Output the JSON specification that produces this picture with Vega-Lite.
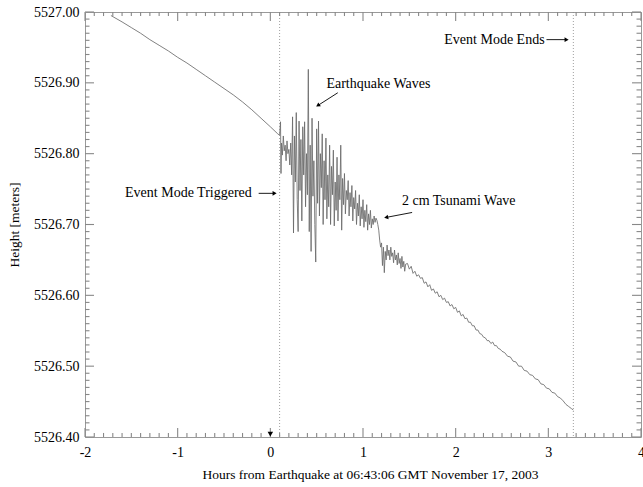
{
"$schema":"https://vega.github.io/schema/vega-lite/v6.json",
"width":556,"height":425,
"autosize":{"type":"none"},
"padding":{"left":85,"top":12,"right":2,"bottom":50},
"background":"white",
"config":{"view":{"stroke":"#999","strokeWidth":1},"axis":{"grid":false,"domain":false,"ticks":false,"labelFont":"Liberation Serif","labelFontSize":14,"labelColor":"#000","titleFont":"Liberation Serif","titleFontSize":13.5,"titleFontWeight":"normal","titleColor":"#000"}},
"datasets":{
"series":[
{"t":-1.72,"h":5526.995},{"t":-1.6,"h":5526.986},{"t":-1.5,"h":5526.978},{"t":-1.4,"h":5526.970},{"t":-1.3,"h":5526.961},{"t":-1.2,"h":5526.953},{"t":-1.1,"h":5526.945},{"t":-1.0,"h":5526.936},{"t":-0.9,"h":5526.928},{"t":-0.8,"h":5526.919},{"t":-0.7,"h":5526.910},{"t":-0.6,"h":5526.901},{"t":-0.5,"h":5526.892},{"t":-0.4,"h":5526.883},{"t":-0.3,"h":5526.873},{"t":-0.2,"h":5526.862},{"t":-0.1,"h":5526.850},{"t":0.0,"h":5526.838},{"t":0.08,"h":5526.828},
{"t":0.10,"h":5526.826},{"t":0.11,"h":5526.845},{"t":0.115,"h":5526.772},{"t":0.12,"h":5526.815},{"t":0.13,"h":5526.798},{"t":0.14,"h":5526.825},{"t":0.15,"h":5526.804},{"t":0.16,"h":5526.812},{"t":0.17,"h":5526.790},{"t":0.18,"h":5526.818},{"t":0.19,"h":5526.800},{"t":0.20,"h":5526.806},{"t":0.21,"h":5526.784},{"t":0.22,"h":5526.815},{"t":0.23,"h":5526.770},{"t":0.24,"h":5526.852},{"t":0.25,"h":5526.688},{"t":0.26,"h":5526.825},{"t":0.27,"h":5526.760},{"t":0.28,"h":5526.858},{"t":0.29,"h":5526.735},{"t":0.30,"h":5526.690},{"t":0.31,"h":5526.846},{"t":0.32,"h":5526.748},{"t":0.33,"h":5526.820},{"t":0.34,"h":5526.705},{"t":0.35,"h":5526.838},{"t":0.36,"h":5526.770},{"t":0.37,"h":5526.845},{"t":0.38,"h":5526.725},{"t":0.39,"h":5526.800},{"t":0.40,"h":5526.742},{"t":0.41,"h":5526.919},{"t":0.42,"h":5526.690},{"t":0.43,"h":5526.812},{"t":0.44,"h":5526.662},{"t":0.45,"h":5526.850},{"t":0.46,"h":5526.740},{"t":0.47,"h":5526.790},{"t":0.48,"h":5526.700},{"t":0.49,"h":5526.647},{"t":0.50,"h":5526.835},{"t":0.51,"h":5526.730},{"t":0.52,"h":5526.846},{"t":0.53,"h":5526.712},{"t":0.54,"h":5526.800},{"t":0.55,"h":5526.752},{"t":0.56,"h":5526.828},{"t":0.57,"h":5526.700},{"t":0.58,"h":5526.790},{"t":0.59,"h":5526.735},{"t":0.60,"h":5526.822},{"t":0.61,"h":5526.708},{"t":0.62,"h":5526.770},{"t":0.63,"h":5526.725},{"t":0.64,"h":5526.812},{"t":0.65,"h":5526.700},{"t":0.66,"h":5526.782},{"t":0.67,"h":5526.742},{"t":0.68,"h":5526.805},{"t":0.69,"h":5526.698},{"t":0.70,"h":5526.760},{"t":0.71,"h":5526.720},{"t":0.72,"h":5526.795},{"t":0.73,"h":5526.705},{"t":0.74,"h":5526.770},{"t":0.75,"h":5526.735},{"t":0.76,"h":5526.812},{"t":0.77,"h":5526.692},{"t":0.78,"h":5526.765},{"t":0.79,"h":5526.728},{"t":0.80,"h":5526.772},{"t":0.81,"h":5526.715},{"t":0.82,"h":5526.748},{"t":0.83,"h":5526.735},{"t":0.84,"h":5526.762},{"t":0.85,"h":5526.712},{"t":0.86,"h":5526.745},{"t":0.87,"h":5526.725},{"t":0.88,"h":5526.755},{"t":0.89,"h":5526.705},{"t":0.90,"h":5526.738},{"t":0.91,"h":5526.722},{"t":0.92,"h":5526.748},{"t":0.93,"h":5526.700},{"t":0.94,"h":5526.730},{"t":0.95,"h":5526.712},{"t":0.96,"h":5526.742},{"t":0.97,"h":5526.698},{"t":0.98,"h":5526.725},{"t":0.99,"h":5526.708},{"t":1.00,"h":5526.735},{"t":1.01,"h":5526.696},{"t":1.02,"h":5526.720},{"t":1.03,"h":5526.704},{"t":1.04,"h":5526.728},{"t":1.05,"h":5526.692},{"t":1.06,"h":5526.715},{"t":1.07,"h":5526.700},{"t":1.08,"h":5526.720},{"t":1.09,"h":5526.695},{"t":1.10,"h":5526.708},{"t":1.11,"h":5526.700},{"t":1.12,"h":5526.712},{"t":1.13,"h":5526.703},{"t":1.14,"h":5526.709},{"t":1.15,"h":5526.706},{"t":1.16,"h":5526.700},{"t":1.17,"h":5526.692},{"t":1.18,"h":5526.678},{"t":1.19,"h":5526.668},{"t":1.20,"h":5526.674},{"t":1.21,"h":5526.642},{"t":1.22,"h":5526.668},{"t":1.23,"h":5526.632},{"t":1.24,"h":5526.662},{"t":1.25,"h":5526.650},{"t":1.26,"h":5526.671},{"t":1.27,"h":5526.656},{"t":1.28,"h":5526.664},{"t":1.29,"h":5526.650},{"t":1.30,"h":5526.668},{"t":1.31,"h":5526.655},{"t":1.32,"h":5526.660},{"t":1.33,"h":5526.646},{"t":1.34,"h":5526.664},{"t":1.35,"h":5526.650},{"t":1.36,"h":5526.657},{"t":1.37,"h":5526.643},{"t":1.38,"h":5526.660},{"t":1.39,"h":5526.645},{"t":1.40,"h":5526.652},{"t":1.41,"h":5526.638},{"t":1.42,"h":5526.655},{"t":1.43,"h":5526.640},{"t":1.44,"h":5526.648},{"t":1.45,"h":5526.634},{"t":1.46,"h":5526.644},
{"t":1.48,"h":5526.645},{"t":1.50,"h":5526.637},{"t":1.52,"h":5526.641},{"t":1.54,"h":5526.631},{"t":1.56,"h":5526.634},{"t":1.58,"h":5526.627},{"t":1.60,"h":5526.629},{"t":1.62,"h":5526.624},{"t":1.64,"h":5526.625},{"t":1.66,"h":5526.617},{"t":1.68,"h":5526.619},{"t":1.70,"h":5526.612},{"t":1.72,"h":5526.615},{"t":1.74,"h":5526.607},{"t":1.76,"h":5526.609},{"t":1.78,"h":5526.603},{"t":1.80,"h":5526.605},{"t":1.82,"h":5526.598},{"t":1.84,"h":5526.600},{"t":1.86,"h":5526.594},{"t":1.88,"h":5526.596},{"t":1.90,"h":5526.590},{"t":1.92,"h":5526.591},{"t":1.94,"h":5526.585},{"t":1.96,"h":5526.587},{"t":1.98,"h":5526.581},{"t":2.00,"h":5526.583},{"t":2.02,"h":5526.576},{"t":2.04,"h":5526.578},{"t":2.06,"h":5526.571},{"t":2.08,"h":5526.573},{"t":2.10,"h":5526.567},{"t":2.12,"h":5526.568},{"t":2.14,"h":5526.562},{"t":2.16,"h":5526.562},{"t":2.18,"h":5526.557},{"t":2.20,"h":5526.557},{"t":2.22,"h":5526.551},{"t":2.24,"h":5526.551},{"t":2.26,"h":5526.546},{"t":2.28,"h":5526.545},{"t":2.30,"h":5526.541},{"t":2.32,"h":5526.540},{"t":2.34,"h":5526.536},{"t":2.36,"h":5526.536},{"t":2.38,"h":5526.532},{"t":2.40,"h":5526.534},{"t":2.42,"h":5526.529},{"t":2.44,"h":5526.529},{"t":2.46,"h":5526.525},{"t":2.48,"h":5526.524},{"t":2.50,"h":5526.521},
{"t":2.53,"h":5526.519},{"t":2.56,"h":5526.514},{"t":2.59,"h":5526.513},{"t":2.62,"h":5526.507},{"t":2.65,"h":5526.506},{"t":2.68,"h":5526.500},{"t":2.71,"h":5526.500},{"t":2.74,"h":5526.494},{"t":2.77,"h":5526.493},{"t":2.80,"h":5526.488},{"t":2.83,"h":5526.487},{"t":2.86,"h":5526.482},{"t":2.89,"h":5526.481},{"t":2.92,"h":5526.475},{"t":2.95,"h":5526.474},{"t":2.98,"h":5526.469},{"t":3.01,"h":5526.468},{"t":3.04,"h":5526.463},{"t":3.07,"h":5526.462},{"t":3.10,"h":5526.457},{"t":3.13,"h":5526.455},{"t":3.16,"h":5526.451},{"t":3.19,"h":5526.446},{"t":3.22,"h":5526.443},{"t":3.25,"h":5526.440},{"t":3.27,"h":5526.438}
],
"events":[{"t":0.1},{"t":3.27}],
"xmajor":[{"v":-2},{"v":-1},{"v":0},{"v":1},{"v":2},{"v":3},{"v":4}],
"xminor":[{"v":-1.9},{"v":-1.8},{"v":-1.7},{"v":-1.6},{"v":-1.5},{"v":-1.4},{"v":-1.3},{"v":-1.2},{"v":-1.1},{"v":-0.9},{"v":-0.8},{"v":-0.7},{"v":-0.6},{"v":-0.5},{"v":-0.4},{"v":-0.3},{"v":-0.2},{"v":-0.1},{"v":0.1},{"v":0.2},{"v":0.3},{"v":0.4},{"v":0.5},{"v":0.6},{"v":0.7},{"v":0.8},{"v":0.9},{"v":1.1},{"v":1.2},{"v":1.3},{"v":1.4},{"v":1.5},{"v":1.6},{"v":1.7},{"v":1.8},{"v":1.9},{"v":2.1},{"v":2.2},{"v":2.3},{"v":2.4},{"v":2.5},{"v":2.6},{"v":2.7},{"v":2.8},{"v":2.9},{"v":3.1},{"v":3.2},{"v":3.3},{"v":3.4},{"v":3.5},{"v":3.6},{"v":3.7},{"v":3.8},{"v":3.9}],
"ymajor":[{"v":5526.4},{"v":5526.5},{"v":5526.6},{"v":5526.7},{"v":5526.8},{"v":5526.9},{"v":5527.0}],
"yminor":[{"v":5526.41},{"v":5526.42},{"v":5526.43},{"v":5526.44},{"v":5526.45},{"v":5526.46},{"v":5526.47},{"v":5526.48},{"v":5526.49},{"v":5526.51},{"v":5526.52},{"v":5526.53},{"v":5526.54},{"v":5526.55},{"v":5526.56},{"v":5526.57},{"v":5526.58},{"v":5526.59},{"v":5526.61},{"v":5526.62},{"v":5526.63},{"v":5526.64},{"v":5526.65},{"v":5526.66},{"v":5526.67},{"v":5526.68},{"v":5526.69},{"v":5526.71},{"v":5526.72},{"v":5526.73},{"v":5526.74},{"v":5526.75},{"v":5526.76},{"v":5526.77},{"v":5526.78},{"v":5526.79},{"v":5526.81},{"v":5526.82},{"v":5526.83},{"v":5526.84},{"v":5526.85},{"v":5526.86},{"v":5526.87},{"v":5526.88},{"v":5526.89},{"v":5526.91},{"v":5526.92},{"v":5526.93},{"v":5526.94},{"v":5526.95},{"v":5526.96},{"v":5526.97},{"v":5526.98},{"v":5526.99}],
"notes":[
{"label":"Event Mode Triggered","tx":-0.20,"ty":5526.744,"ax":-0.126,"ay":5526.744,"ax2":0.046,"ay2":5526.744},
{"label":"Event Mode Ends","tx":2.96,"ty":5526.961,"ax":2.98,"ay":5526.961,"ax2":3.197,"ay2":5526.961},
{"label":"Earthquake Waves","tx":0.605,"ty":5526.899,"ax":0.728,"ay":5526.886,"ax2":0.513,"ay2":5526.868},
{"label":"2 cm Tsunami Wave","tx":1.42,"ty":5526.733,"ax":1.53,"ay":5526.717,"ax2":1.25,"ay2":5526.710}
],
"marker":[{"t":0,"h":5526.404}]
},
"layer":[
{"data":{"name":"series"},"mark":{"type":"line","stroke":"#6a6a6a","strokeWidth":0.85,"interpolate":"linear"},
 "encoding":{
  "x":{"field":"t","type":"quantitative","scale":{"domain":[-2,4],"nice":false,"zero":false},"axis":{"orient":"bottom","values":[-2,-1,0,1,2,3,4],"format":"d","labelPadding":8,"labelFlush":false,"labelExpr":"replace(datum.label, '−', '-')","title":"Hours from Earthquake at 06:43:06 GMT November 17, 2003","titlePadding":8,"titleX":285}},
  "y":{"field":"h","type":"quantitative","scale":{"domain":[5526.4,5527.0],"nice":false,"zero":false},"axis":{"orient":"left","values":[5526.4,5526.5,5526.6,5526.7,5526.8,5526.9,5527.0],"format":".2f","labelPadding":6,"title":"Height [meters]","titlePadding":12}}
 }},
{"data":{"name":"xmajor"},"mark":{"type":"rule","stroke":"#888","strokeWidth":1.1},
 "encoding":{"x":{"field":"v","type":"quantitative"},"y":{"datum":5526.4,"type":"quantitative"},"y2":{"datum":5526.4127}}},
{"data":{"name":"xmajor"},"mark":{"type":"rule","stroke":"#888","strokeWidth":1.1},
 "encoding":{"x":{"field":"v","type":"quantitative"},"y":{"datum":5527.0,"type":"quantitative"},"y2":{"datum":5526.9873}}},
{"data":{"name":"xminor"},"mark":{"type":"rule","stroke":"#888","strokeWidth":1.1},
 "encoding":{"x":{"field":"v","type":"quantitative"},"y":{"datum":5526.4,"type":"quantitative"},"y2":{"datum":5526.4057}}},
{"data":{"name":"xminor"},"mark":{"type":"rule","stroke":"#888","strokeWidth":1.1},
 "encoding":{"x":{"field":"v","type":"quantitative"},"y":{"datum":5527.0,"type":"quantitative"},"y2":{"datum":5526.9943}}},
{"data":{"name":"ymajor"},"mark":{"type":"rule","stroke":"#888","strokeWidth":1.1},
 "encoding":{"y":{"field":"v","type":"quantitative"},"x":{"datum":-2,"type":"quantitative"},"x2":{"datum":-1.903}}},
{"data":{"name":"ymajor"},"mark":{"type":"rule","stroke":"#888","strokeWidth":1.1},
 "encoding":{"y":{"field":"v","type":"quantitative"},"x":{"datum":4,"type":"quantitative"},"x2":{"datum":3.903}}},
{"data":{"name":"yminor"},"mark":{"type":"rule","stroke":"#888","strokeWidth":1.1},
 "encoding":{"y":{"field":"v","type":"quantitative"},"x":{"datum":-2,"type":"quantitative"},"x2":{"datum":-1.9515}}},
{"data":{"name":"yminor"},"mark":{"type":"rule","stroke":"#888","strokeWidth":1.1},
 "encoding":{"y":{"field":"v","type":"quantitative"},"x":{"datum":4,"type":"quantitative"},"x2":{"datum":3.9515}}},
{"data":{"name":"events"},"mark":{"type":"rule","stroke":"#888","strokeWidth":0.8,"strokeDash":[1,2]},
 "encoding":{"x":{"field":"t","type":"quantitative"}}},
{"data":{"name":"notes"},"transform":[{"filter":"datum.label == 'Event Mode Triggered' || datum.label == 'Event Mode Ends'"}],
 "mark":{"type":"text","align":"right","baseline":"middle","font":"Liberation Serif","fontSize":14,"color":"#000"},
 "encoding":{"x":{"field":"tx","type":"quantitative"},"y":{"field":"ty","type":"quantitative"},"text":{"field":"label"}}},
{"data":{"name":"notes"},"transform":[{"filter":"datum.label == 'Earthquake Waves' || datum.label == '2 cm Tsunami Wave'"}],
 "mark":{"type":"text","align":"left","baseline":"middle","font":"Liberation Serif","fontSize":14,"color":"#000"},
 "encoding":{"x":{"field":"tx","type":"quantitative"},"y":{"field":"ty","type":"quantitative"},"text":{"field":"label"}}},
{"data":{"name":"notes"},"mark":{"type":"rule","stroke":"#000","strokeWidth":0.9},
 "encoding":{"x":{"field":"ax","type":"quantitative"},"y":{"field":"ay","type":"quantitative"},"x2":{"field":"ax2"},"y2":{"field":"ay2"}}},
{"data":{"name":"notes"},"transform":[{"filter":"datum.label == 'Event Mode Triggered' || datum.label == 'Event Mode Ends'"}],
 "mark":{"type":"point","shape":"triangle-right","filled":true,"color":"#000","size":22,"opacity":1},
 "encoding":{"x":{"field":"ax2","type":"quantitative"},"y":{"field":"ay2","type":"quantitative"}}},
{"data":{"name":"notes"},"transform":[{"filter":"datum.label == 'Earthquake Waves'"}],
 "mark":{"type":"point","shape":"triangle-right","filled":true,"color":"#000","size":22,"opacity":1,"angle":147},
 "encoding":{"x":{"field":"ax2","type":"quantitative"},"y":{"field":"ay2","type":"quantitative"}}},
{"data":{"name":"notes"},"transform":[{"filter":"datum.label == '2 cm Tsunami Wave'"}],
 "mark":{"type":"point","shape":"triangle-right","filled":true,"color":"#000","size":22,"opacity":1,"angle":169},
 "encoding":{"x":{"field":"ax2","type":"quantitative"},"y":{"field":"ay2","type":"quantitative"}}},
{"data":{"name":"marker"},
 "mark":{"type":"point","shape":"triangle-down","filled":true,"color":"#000","size":30,"opacity":1},
 "encoding":{"x":{"field":"t","type":"quantitative"},"y":{"field":"h","type":"quantitative"}}}
]
}
